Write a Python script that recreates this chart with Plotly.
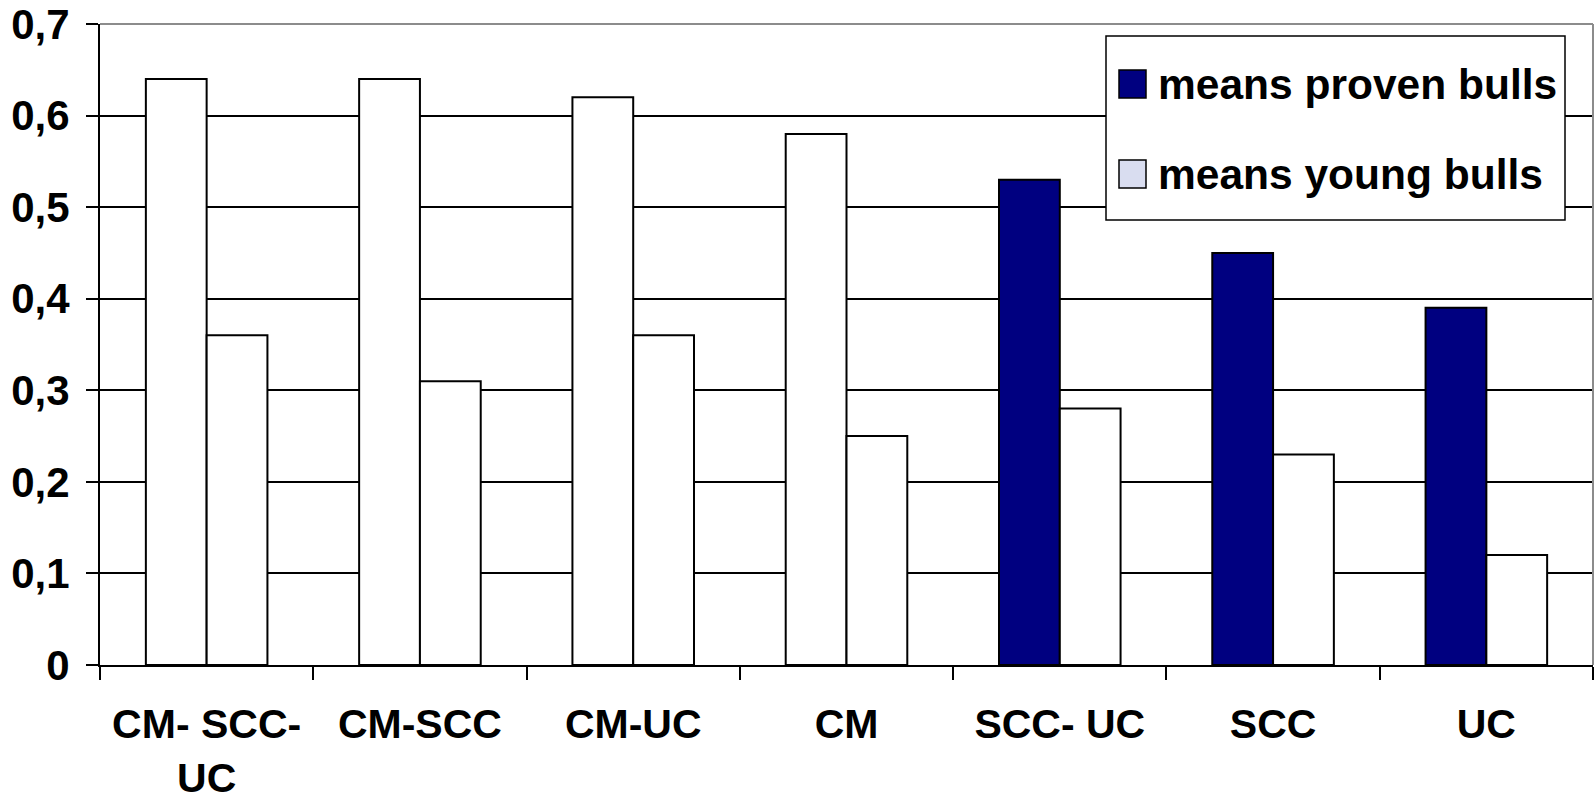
import plotly.graph_objects as go

# Categories and the two series of means
categories = ["CM- SCC-<br>UC", "CM-SCC", "CM-UC", "CM", "SCC- UC", "SCC", "UC"]
proven_bulls = [0.64, 0.64, 0.62, 0.58, 0.53, 0.45, 0.39]
young_bulls = [0.36, 0.31, 0.36, 0.25, 0.28, 0.23, 0.12]
proven_colors = ["#ffffff"] * 4 + ["#000080"] * 3
young_colors = ["#ffffff"] * 7
y_ticks = [0, 0.1, 0.2, 0.3, 0.4, 0.5, 0.6, 0.7]
y_tick_text = ["0", "0,1", "0,2", "0,3", "0,4", "0,5", "0,6", "0,7"]
legend_names = ["means proven bulls", "means young bulls"]
legend_colors = ["#000080", "#d9ddf0"]

W, H = 1595, 806
L, R, T, B = 100, 2, 24, 141
PW, PH = W - L - R, H - T - B
FONT = "Arial, Liberation Sans, sans-serif"


def px(x):
    return (x - L) / PW


def py(y):
    return (H - B - y) / PH


fig = go.Figure()
fig.add_trace(go.Bar(
    x=categories, y=proven_bulls, name=legend_names[0],
    marker=dict(color=proven_colors, line=dict(color="black", width=2)),
    showlegend=False,
))
fig.add_trace(go.Bar(
    x=categories, y=young_bulls, name=legend_names[1],
    marker=dict(color=young_colors, line=dict(color="black", width=2)),
    showlegend=False,
))

shapes = [
    # light frame on top and right of the plot area
    dict(type="line", xref="paper", yref="paper", x0=0, x1=1, y0=1, y1=1,
         line=dict(color="#8c8c8c", width=2), layer="above"),
    dict(type="line", xref="paper", yref="paper", x0=1, x1=1, y0=0, y1=1,
         line=dict(color="#8c8c8c", width=2), layer="above"),
    # legend box
    dict(type="rect", xref="paper", yref="paper",
         x0=px(1106), x1=px(1565), y0=py(220), y1=py(36),
         line=dict(color="black", width=1.5), fillcolor="white", layer="above"),
]
annotations = []
rows = [(70, 98), (160, 188)]
for (top, bot), name, col in zip(rows, legend_names, legend_colors):
    shapes.append(dict(type="rect", xref="paper", yref="paper",
                       x0=px(1119), x1=px(1146), y0=py(bot), y1=py(top),
                       line=dict(color="black", width=1.5), fillcolor=col, layer="above"))
    annotations.append(dict(xref="paper", yref="paper", x=px(1156), y=py((top + bot) / 2),
                            xanchor="left", yanchor="middle", showarrow=False, text=name,
                            font=dict(family=FONT, size=42.5, color="black", weight="bold")))

fig.update_layout(
    width=W, height=H,
    margin=dict(l=L, r=R, t=T, b=B),
    paper_bgcolor="white", plot_bgcolor="white",
    barmode="group", bargap=0.43, bargroupgap=0,
    shapes=shapes, annotations=annotations,
    showlegend=False,
)
fig.update_xaxes(
    type="category", tickson="boundaries", automargin=False,
    showline=True, linecolor="black", linewidth=2,
    ticks="outside", ticklen=13, tickwidth=2, tickcolor="black",
    ticklabelstandoff=22,
    tickfont=dict(family=FONT, size=41, color="black", weight="bold"),
    showgrid=False,
)
fig.update_yaxes(
    range=[0, 0.7], tickvals=y_ticks, ticktext=y_tick_text, automargin=False,
    showline=True, linecolor="black", linewidth=2,
    ticks="outside", ticklen=12, tickwidth=2, tickcolor="black",
    ticklabelstandoff=8,
    tickfont=dict(family=FONT, size=42, color="black", weight="bold"),
    showgrid=True, gridcolor="black", gridwidth=1.5,
    zeroline=False,
)

fig.write_html("out.html")
